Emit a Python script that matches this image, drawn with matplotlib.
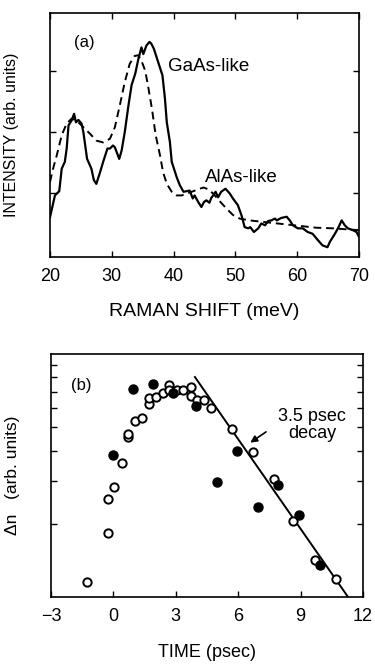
import numpy as np
import matplotlib
matplotlib.use('Agg')
import matplotlib.pyplot as plt
from matplotlib.ticker import NullFormatter, FixedLocator

plt.rcParams['font.family'] = ['Liberation Sans', 'DejaVu Sans']

# (a) Raman spectra
shift_solid = [20.0, 20.8, 21.5, 21.9, 22.4, 22.7, 23.0, 23.5, 23.9, 24.2, 24.6, 25.1, 25.4, 26.0, 26.7,
               27.1, 27.5, 28.1, 28.6, 29.3, 29.7, 30.2, 30.5, 31.2, 31.6, 32.1, 32.7, 33.2, 33.8, 34.3,
               34.8, 35.1, 35.6, 36.1, 36.4, 36.8, 37.5, 38.2, 38.6, 38.9, 39.4, 39.7, 39.9, 40.5, 41.0,
               41.6, 42.1, 42.6, 43.1, 43.4, 44.0, 44.5, 44.9, 45.3, 45.8, 46.1, 46.4, 46.8, 47.2, 47.7,
               48.4, 49.1, 49.6, 50.4, 51.0, 51.5, 52.1, 52.4, 53.0, 53.7, 54.2, 54.8, 55.3, 55.8, 56.4,
               56.7, 57.4, 58.3, 58.8, 59.3, 60.1, 60.9, 61.7, 62.5, 63.4, 64.1, 64.9, 65.3, 66.1, 66.6,
               67.2, 67.7, 68.2, 69.0, 69.6, 70.0]
int_solid = [0.60, 0.96, 1.03, 1.40, 1.51, 1.73, 2.11, 2.19, 2.30, 2.16, 2.20, 2.14, 2.00, 1.56, 1.40,
             1.21, 1.15, 1.34, 1.51, 1.73, 1.73, 1.78, 1.75, 1.56, 1.70, 2.00, 2.44, 2.77, 2.96, 3.20,
             3.39, 3.28, 3.42, 3.48, 3.45, 3.37, 3.15, 2.93, 2.55, 2.16, 1.84, 1.51, 1.45, 1.26, 1.13,
             1.02, 1.03, 1.04, 0.91, 0.96, 0.85, 0.77, 0.85, 0.88, 0.84, 0.92, 0.96, 1.02, 0.93, 1.02,
             1.07, 0.99, 0.91, 0.80, 0.63, 0.44, 0.42, 0.44, 0.36, 0.42, 0.50, 0.47, 0.54, 0.55, 0.58,
             0.55, 0.59, 0.61, 0.55, 0.47, 0.42, 0.42, 0.36, 0.33, 0.22, 0.14, 0.11, 0.20, 0.33, 0.42,
             0.55, 0.47, 0.42, 0.39, 0.36, 0.28]
shift_dash = [20.0, 20.5, 21.1, 21.9, 22.7, 23.5, 24.3, 25.4, 26.5, 27.5, 28.6, 29.7, 30.5, 31.3, 32.1,
              32.9, 33.7, 34.3, 34.8, 35.4, 35.9, 36.5, 37.1, 37.8, 38.3, 38.9, 39.7, 40.5, 41.3, 42.1,
              43.2, 44.2, 44.9, 45.6, 46.4, 47.6, 48.6, 49.6, 50.7, 52.3, 55.0, 57.7, 60.4, 63.1, 65.8,
              68.5, 70.0]
int_dash = [1.18, 1.40, 1.62, 1.95, 2.14, 2.22, 2.19, 2.08, 1.97, 1.86, 1.83, 1.89, 2.08, 2.44, 2.82,
            3.12, 3.25, 3.26, 3.17, 3.01, 2.74, 2.38, 1.95, 1.62, 1.34, 1.15, 1.02, 0.96, 0.96, 0.99,
            1.03, 1.07, 1.09, 1.06, 0.99, 0.85, 0.74, 0.64, 0.58, 0.55, 0.52, 0.49, 0.46, 0.43, 0.42,
            0.40, 0.39]

# (b) time-resolved carrier density
t_open = [-1.25, -0.27, -0.28, 0.05, 0.40, 0.69, 0.69, 1.04, 1.39, 1.71, 1.71, 2.03, 2.37, 2.69,
          2.69, 3.04, 3.36, 3.72, 3.71, 4.03, 4.36, 4.68, 5.69, 6.73, 7.72, 8.65, 9.69, 10.70]
dn_open = [1.15, 1.84, 2.52, 2.84, 3.56, 4.55, 4.67, 5.30, 5.45, 6.21, 6.58, 6.65, 6.90, 7.42,
           7.12, 7.08, 7.08, 7.31, 6.71, 6.44, 6.44, 6.01, 4.93, 3.93, 3.05, 2.06, 1.42, 1.19]
t_filled = [-0.03, 0.96, 1.92, 2.88, 3.96, 4.96, 5.93, 6.94, 7.93, 8.92, 9.93]
dn_filled = [3.83, 7.19, 7.50, 6.90, 6.11, 2.98, 3.99, 2.35, 2.88, 2.17, 1.35]
fit_t = [3.92, 11.35]
fit_dn = [8.03, 0.98]

fig = plt.figure(figsize=(3.75, 6.64), dpi=100)

# ---- panel (a)
ax = fig.add_axes([0.1333, 0.613, 0.824, 0.367])
ax.plot(shift_solid, int_solid, color='black', lw=1.6)
ax.plot(shift_dash, int_dash, color='black', lw=1.4, dashes=(4, 2.5))
ax.set_xlim(20, 70)
ax.set_ylim(-0.05, 3.95)
ax.set_xticks([20, 30, 40, 50, 60, 70])
ax.set_yticks([1, 2, 3])
ax.yaxis.set_major_formatter(NullFormatter())
ax.tick_params(direction='in', length=4, width=1, top=True, right=True, labelsize=13, pad=8)
ax.set_xlabel('RAMAN SHIFT (meV)', fontsize=14, labelpad=13)
ax.set_ylabel('INTENSITY (arb. units)', fontsize=11.5)
ax.yaxis.set_label_coords(-0.10, 0.5)
ax.text(23.9, 3.47, '(a)', fontsize=12, va='center')
ax.text(39.1, 3.07, 'GaAs-like', fontsize=13.5, va='center')
ax.text(45.0, 1.26, 'AlAs-like', fontsize=13.5, va='center')
for s in ax.spines.values():
    s.set_linewidth(1.2)

# ---- panel (b)
bx = fig.add_axes([0.136, 0.101, 0.832, 0.366])
bx.set_yscale('log')
bx.plot(fit_t, fit_dn, color='black', lw=1.4)
bx.plot(t_open, dn_open, 'o', mfc='white', mec='black', mew=1.4, ms=6)
bx.plot(t_filled, dn_filled, 'o', mfc='black', mec='black', ms=6.5)
bx.set_xlim(-3, 12)
bx.set_ylim(1, 10)
bx.set_xticks([-3, 0, 3, 6, 9, 12])
bx.yaxis.set_major_locator(FixedLocator([]))
bx.yaxis.set_minor_locator(FixedLocator([2, 3, 4, 5, 6, 7, 8, 9]))
bx.yaxis.set_minor_formatter(NullFormatter())
bx.tick_params(axis='both', which='both', direction='in', length=4, width=1, right=True, labelsize=13, pad=8)
bx.set_xlabel('TIME (psec)', fontsize=13, labelpad=14)
bx.set_ylabel('\u0394n   (arb. units)', fontsize=12.5)
bx.yaxis.set_label_coords(-0.10, 0.5)
bx.text(-2.05, 7.4, '(b)', fontsize=12, va='center')
bx.text(9.55, 5.1, '3.5 psec\ndecay', fontsize=13, ha='center', va='center', linespacing=1.0)
bx.annotate('', xy=(6.47, 4.25), xytext=(7.45, 4.85),
            arrowprops=dict(arrowstyle='-|>', color='black', lw=1.2, mutation_scale=10))
for s in bx.spines.values():
    s.set_linewidth(1.2)

fig.savefig('out.png', dpi=100)
